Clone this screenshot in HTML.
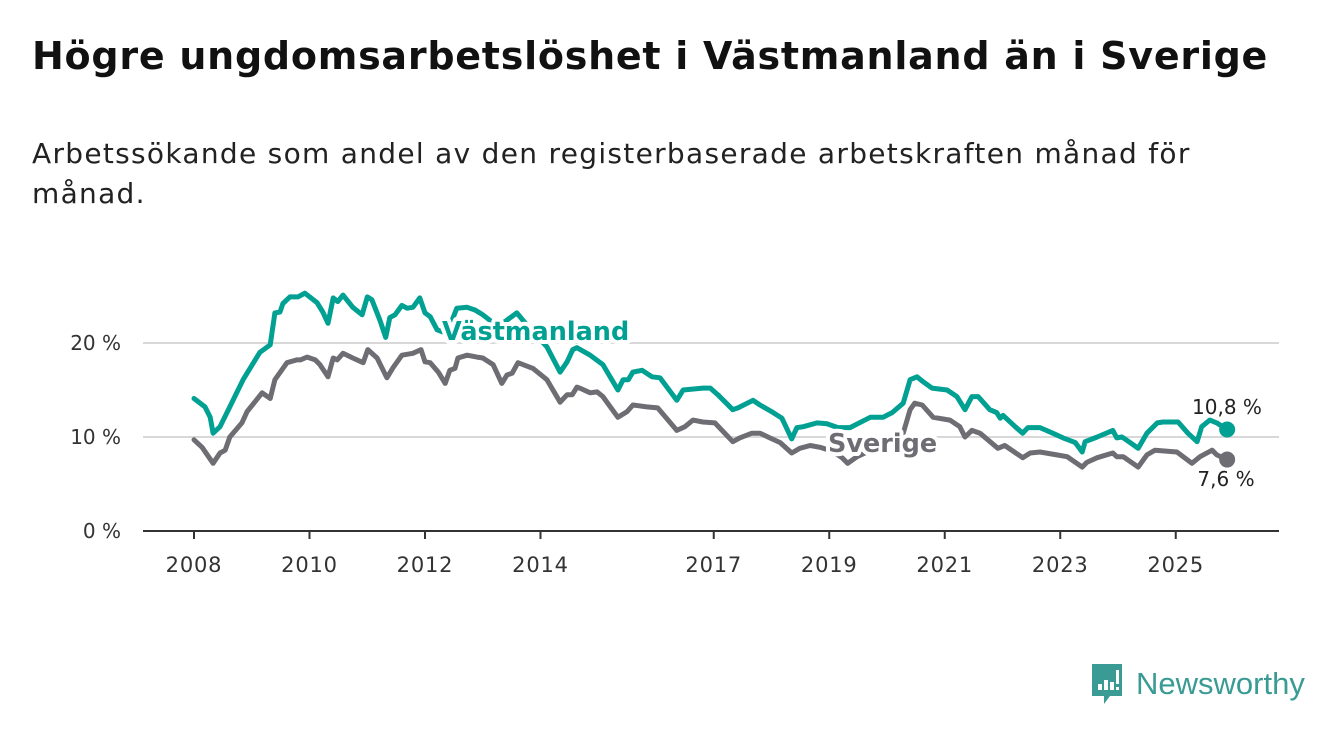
<!DOCTYPE html>
<html><head><meta charset="utf-8">
<style>
body{margin:0;width:1340px;height:734px;background:#fff;overflow:hidden;font-family:"DejaVu Sans","Liberation Sans",sans-serif;}
#title{position:absolute;left:32px;top:34px;font-size:38px;font-weight:bold;color:#111;margin:0;letter-spacing:0.75px;white-space:nowrap;}
#sub{position:absolute;left:32px;top:134px;font-size:28px;color:#222;line-height:40px;width:1250px;letter-spacing:1.3px;white-space:nowrap;}
svg{position:absolute;left:0;top:0;}
</style></head><body>
<h1 id="title">Högre ungdomsarbetslöshet i Västmanland än i Sverige</h1>
<div id="sub">Arbetssökande som andel av den registerbaserade arbetskraften månad för<br>månad.</div>
<svg id="chart" width="1340" height="734"></svg>
<div style="position:absolute;left:1090px;top:662px;display:flex;align-items:center;">
<svg width="34" height="44" style="position:static"><path d="M2 2h30v32H20l-6 8v-8H2z" fill="#3a9b94"/><rect x="8" y="22" width="4" height="6" fill="#fff"/><rect x="14" y="18" width="4" height="10" fill="#fff"/><rect x="20" y="20" width="4" height="8" fill="#fff"/><rect x="26" y="8" width="3" height="14" fill="#fff"/><rect x="26" y="25" width="3" height="3" fill="#fff"/></svg>
<span style="font-family:'Liberation Sans',sans-serif;font-size:31px;color:#3a9b94;margin-left:12px;">Newsworthy</span></div>
<script>
const yTicks=[0,10,20];
const yTickLabels=["0 %","10 %","20 %"];
const xTicks=[2008,2010,2012,2014,2017,2019,2021,2023,2025];
const vT=[0,0.19,0.28,0.33,0.45,0.62,0.85,1.14,1.32,1.40,1.49,1.54,1.66,1.80,1.92,2.13,2.23,2.32,2.41,2.49,2.58,2.75,2.91,3.00,3.08,3.22,3.32,3.39,3.48,3.60,3.69,3.79,3.91,4.00,4.09,4.21,4.38,4.55,4.73,4.87,5.00,5.21,5.39,5.59,5.82,6.11,6.34,6.46,6.56,6.63,6.86,7.08,7.34,7.43,7.52,7.60,7.76,7.93,8.07,8.36,8.47,8.81,8.94,9.07,9.33,9.42,9.68,9.80,10.03,10.18,10.35,10.44,10.55,10.79,10.96,11.15,11.36,11.71,11.93,12.09,12.28,12.40,12.52,12.62,12.78,13.04,13.21,13.35,13.47,13.58,13.78,13.90,13.96,14.01,14.22,14.35,14.44,14.65,14.87,15.05,15.26,15.38,15.43,15.64,15.91,15.98,16.07,16.21,16.35,16.50,16.68,16.78,17.04,17.21,17.37,17.45,17.59,17.71,17.89];
const vV=[14.1,13.2,12.1,10.4,11.1,13.2,16.1,19.0,19.8,23.2,23.3,24.2,24.9,24.9,25.3,24.3,23.3,22.1,24.8,24.4,25.1,23.8,23.0,24.9,24.6,22.4,20.6,22.7,23.0,24.0,23.7,23.8,24.8,23.2,22.8,21.4,21.0,23.7,23.8,23.5,23.0,22.0,22.3,23.2,21.5,19.6,16.9,18.0,19.3,19.5,18.7,17.7,15.0,16.1,16.1,16.9,17.1,16.4,16.3,13.9,15.0,15.2,15.2,14.5,12.9,13.1,13.9,13.4,12.6,12.0,9.8,11.0,11.1,11.5,11.4,11.0,11.0,12.1,12.1,12.6,13.6,16.1,16.4,15.9,15.2,15.0,14.3,12.9,14.3,14.3,12.9,12.6,12.0,12.3,11.1,10.4,11.0,11.0,10.4,9.9,9.4,8.4,9.5,10.0,10.7,9.9,10.0,9.4,8.8,10.4,11.5,11.6,11.6,10.4,9.5,11.1,11.8,11.5,10.8];
const sT=[0,0.14,0.33,0.45,0.54,0.62,0.83,0.92,1.18,1.32,1.40,1.61,1.78,1.84,1.96,2.10,2.18,2.32,2.41,2.48,2.58,2.75,2.93,3.01,3.17,3.34,3.45,3.60,3.79,3.93,4.00,4.09,4.23,4.35,4.43,4.52,4.57,4.73,4.90,5.00,5.18,5.33,5.42,5.51,5.61,5.87,6.11,6.34,6.46,6.55,6.63,6.68,6.86,6.98,7.08,7.34,7.50,7.60,7.84,8.03,8.36,8.50,8.64,8.81,9.02,9.33,9.45,9.66,9.80,9.97,10.15,10.35,10.49,10.67,10.84,11.05,11.22,11.32,11.48,11.79,12.10,12.28,12.40,12.48,12.61,12.80,13.09,13.26,13.35,13.47,13.61,13.92,14.04,14.35,14.48,14.65,14.94,15.12,15.38,15.46,15.64,15.91,15.98,16.09,16.35,16.50,16.64,17.02,17.28,17.42,17.63,17.71,17.89];
const sV=[9.7,8.9,7.2,8.3,8.6,10.0,11.5,12.7,14.7,14.1,16.1,17.9,18.2,18.2,18.5,18.2,17.7,16.4,18.4,18.2,18.9,18.4,17.9,19.3,18.4,16.3,17.4,18.7,18.9,19.3,18.0,17.9,16.9,15.7,17.1,17.3,18.4,18.7,18.5,18.4,17.7,15.7,16.6,16.8,17.9,17.3,16.1,13.7,14.5,14.5,15.3,15.2,14.7,14.8,14.3,12.1,12.7,13.4,13.2,13.1,10.7,11.1,11.8,11.6,11.5,9.5,9.9,10.4,10.4,9.9,9.4,8.3,8.8,9.1,8.9,8.5,7.8,7.2,7.9,8.8,9.6,10.4,12.9,13.6,13.4,12.1,11.8,11.1,10.0,10.7,10.4,8.8,9.1,7.8,8.3,8.4,8.1,7.9,6.8,7.3,7.8,8.3,7.9,7.9,6.8,8.1,8.6,8.4,7.2,7.9,8.6,8.1,7.6];
const NS="http://www.w3.org/2000/svg";
const FF='DejaVu Sans, Liberation Sans, sans-serif';
const svg=document.getElementById('chart');
const X=t=>194+t*57.75;
const XY=yr=>X(yr-2008);
const Y=v=>531-v*9.4;
function mk(tag,attrs,parent){const e=document.createElementNS(NS,tag);for(const k in attrs)e.setAttribute(k,attrs[k]);(parent||svg).appendChild(e);return e;}
yTicks.forEach((v,i)=>{
  if(v>0){const g=mk('line',{x1:143,x2:1279,y1:Y(v),y2:Y(v),stroke:'#d8d8d8','stroke-width':2});
  
  }
  const t=mk('text',{x:121,y:Y(v)+7,'text-anchor':'end','font-size':20,fill:'#333','font-family':FF});
  t.textContent=yTickLabels[i];
  
  
});
const ax=mk('line',{x1:143,x2:1279,y1:531,y2:531,stroke:'#333','stroke-width':2});


xTicks.forEach(yr=>{
  const tk=mk('line',{x1:XY(yr),x2:XY(yr),y1:531,y2:539,stroke:'#333','stroke-width':2});
  
  
  const t=mk('text',{x:XY(yr),y:572,'text-anchor':'middle','font-size':21,'letter-spacing':0.8,fill:'#333','font-family':FF});
  t.textContent=yr;
  
  
});
function line(T,V,color,name){
  const d=T.map((t,i)=>(i?'L':'M')+X(t).toFixed(1)+' '+Y(V[i]).toFixed(1)).join(' ');
  const p=mk('path',{d:d,fill:'none',stroke:color,'stroke-width':5,'stroke-linejoin':'round','stroke-linecap':'round'});
  
  
  const n=T.length-1;
  const c=mk('circle',{cx:X(T[n]),cy:Y(V[n]),r:8,fill:color});
  
  
}
line(sT,sV,'#6e6d73','sverige-line');
line(vT,vV,'#00a092','vastmanland-line');
function lab(x,y,txt,color,name,anchor,bold,size){
  const t=mk('text',{x:x,y:y,'text-anchor':anchor,'font-size':size,'font-weight':bold?'bold':'normal',fill:color,stroke:'#fff','stroke-width':bold?8:5,'paint-order':'stroke','stroke-linejoin':'round','font-family':FF});
  t.textContent=txt;
  
  
}
lab(442,340,'Västmanland','#00a092','vastmanland-label','start',true,25.5);
lab(828,452,'Sverige','#6e6d73','sverige-label','start',true,25.5);
lab(1227,414,'10,8 %','#222','vastmanland-end-value','middle',false,20);
lab(1226,486,'7,6 %','#222','sverige-end-value','middle',false,20);
</script>
</body></html>
